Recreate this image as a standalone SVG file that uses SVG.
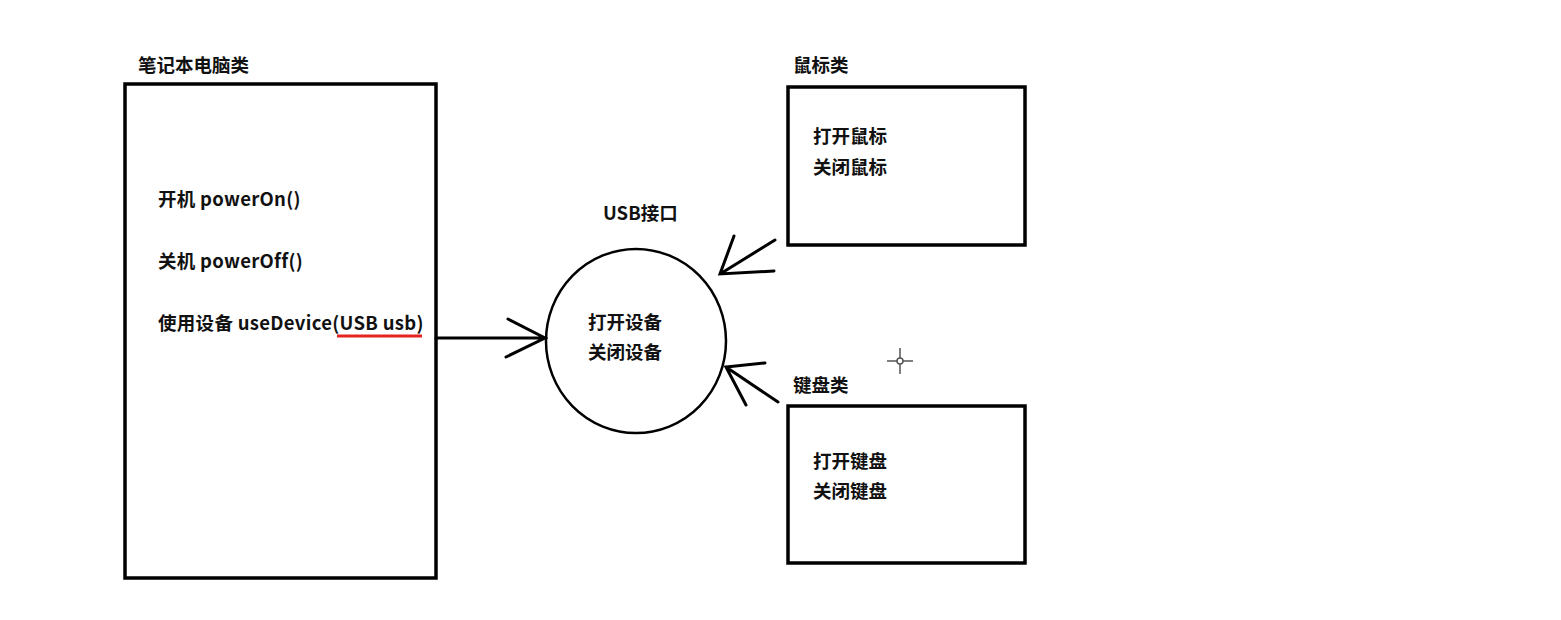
<svg xmlns="http://www.w3.org/2000/svg" width="1561" height="620" viewBox="0 0 1561 620">
<style>
text{font-family:"Noto Sans CJK SC","Liberation Sans",sans-serif;font-weight:bold;fill:#111;font-size:18.5px;}
.lat{letter-spacing:0.3px;}
.box{fill:none;stroke:#000;stroke-width:3.5;}
.ln{fill:none;stroke:#000;stroke-width:3;stroke-linecap:round;}
</style>
<rect width="1561" height="620" fill="#fff"/>
<g id="laptop">
<text x="138" y="72">笔记本电脑类</text>
<rect class="box" x="125" y="84" width="311" height="494"/>
<text class="lat" x="158" y="206">开机 powerOn()</text>
<text class="lat" x="158" y="268">关机 powerOff()</text>
<text class="lat" x="158" y="330">使用设备 useDevice(USB usb)</text>
<line x1="337" y1="336" x2="422" y2="336" stroke="#e52420" stroke-width="3"/>
</g>
<g id="usb">
<text x="603" y="220">USB接口</text>
<ellipse cx="636" cy="341" rx="90" ry="92" fill="none" stroke="#000" stroke-width="2.5"/>
<text x="588" y="329">打开设备</text>
<text x="588" y="359">关闭设备</text>
</g>
<g id="mouse">
<text x="793" y="72">鼠标类</text>
<rect class="box" x="788" y="87" width="237" height="158"/>
<text x="813" y="143">打开鼠标</text>
<text x="813" y="174">关闭鼠标</text>
</g>
<g id="keyboard">
<text x="793" y="392">键盘类</text>
<rect class="box" x="788" y="406" width="237" height="157"/>
<text x="813" y="468">打开键盘</text>
<text x="813" y="498">关闭键盘</text>
</g>
<g id="connectors">
<path class="ln" d="M436 338 H546 M508 319 L545 338 L506 357"/>
<path class="ln" d="M775 240 L720 274 M734 236 L720 274 L774 271"/>
<path class="ln" d="M778 402 L726 367 M765 363 L726 367 L746 405"/>
</g>
<g id="cursor" stroke="#555" stroke-width="1.5" fill="none">
<line x1="900" y1="348" x2="900" y2="374"/>
<line x1="887" y1="361" x2="913" y2="361"/>
<circle cx="900" cy="361" r="3" fill="#fff"/>
</g>
</svg>
